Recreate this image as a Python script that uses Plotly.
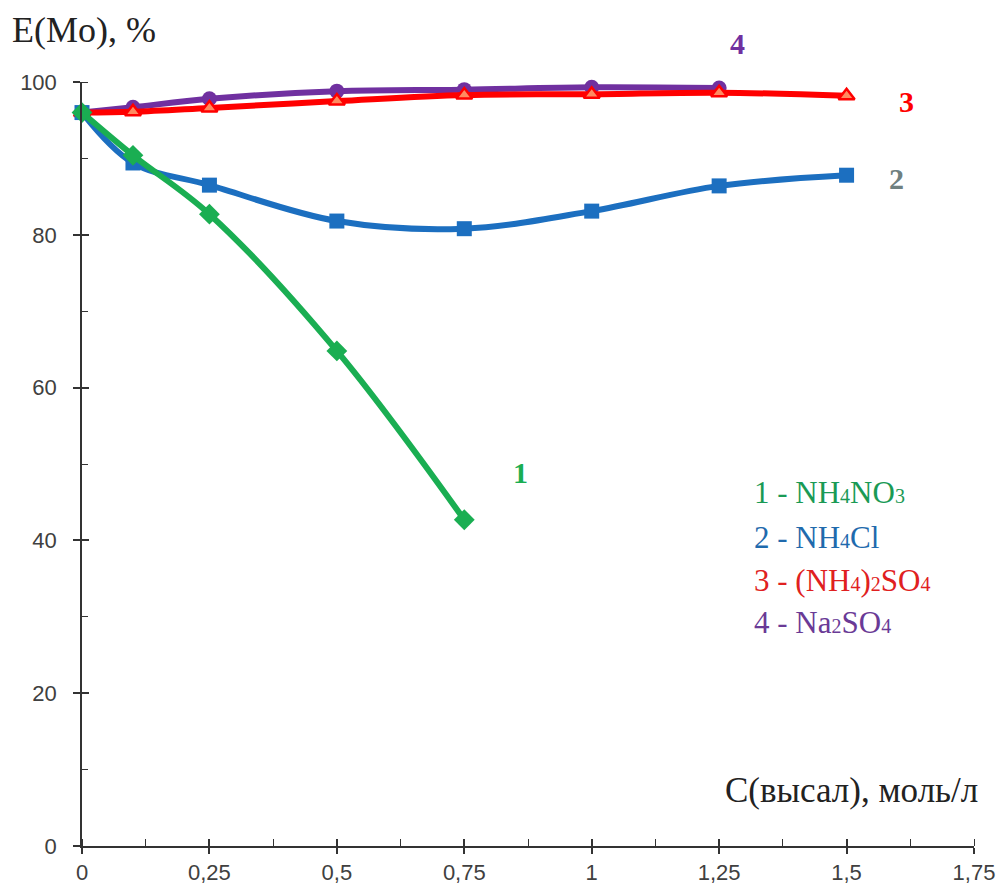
import plotly.graph_objects as go

x1 = [0, 0.1, 0.25, 0.5, 0.75]
y1 = [96.0, 90.4, 82.7, 64.8, 42.7]
x2 = [0, 0.1, 0.25, 0.5, 0.75, 1.0, 1.25, 1.5]
y2 = [96.0, 89.4, 86.5, 81.8, 80.8, 83.1, 86.4, 87.8]
x3 = [0, 0.1, 0.25, 0.5, 0.75, 1.0, 1.25, 1.5]
y3 = [96.0, 96.1, 96.6, 97.5, 98.3, 98.4, 98.6, 98.2]
x4 = [0, 0.1, 0.25, 0.5, 0.75, 1.0, 1.25]
y4 = [96.0, 96.7, 97.8, 98.8, 99.0, 99.3, 99.2]

xtick_vals = [0, 0.25, 0.5, 0.75, 1, 1.25, 1.5, 1.75]
xtick_text = ["0", "0,25", "0,5", "0,75", "1", "1,25", "1,5", "1,75"]
ytick_vals = [0, 20, 40, 60, 80, 100]

GREEN = "#1aae52"
BLUE = "#1c6fc0"
RED = "#ff0000"
PURPLE = "#7030a0"

fig = go.Figure()
fig.add_trace(go.Scatter(x=x4, y=y4, mode="lines+markers",
                         line=dict(color=PURPLE, width=6, shape="spline"),
                         marker=dict(symbol="circle", size=15, color=PURPLE), cliponaxis=False))
fig.add_trace(go.Scatter(x=x3, y=y3, mode="lines+markers",
                         line=dict(color=RED, width=6, shape="spline"),
                         marker=dict(symbol="triangle-up", size=14, color="#ff8a60",
                                     line=dict(color=RED, width=2.5)), cliponaxis=False))
fig.add_trace(go.Scatter(x=x2, y=y2, mode="lines+markers",
                         line=dict(color=BLUE, width=6, shape="spline"),
                         marker=dict(symbol="square", size=15, color=BLUE), cliponaxis=False))
fig.add_trace(go.Scatter(x=x1, y=y1, mode="lines+markers",
                         line=dict(color=GREEN, width=6, shape="spline"),
                         marker=dict(symbol="diamond", size=16, color=GREEN), cliponaxis=False))

ytickfont = dict(family="Liberation Sans", size=22, color="#404040")
xtickfont = dict(family="Liberation Sans Narrow, Liberation Sans", size=22, color="#404040")

# the page body adds an 8px offset; compensate in margins/size
fig.update_layout(
    width=997, height=878,
    margin=dict(l=74, r=31, t=74, b=40),
    paper_bgcolor="white", plot_bgcolor="white",
    showlegend=False,
    xaxis=dict(range=[0, 1.75], tickvals=xtick_vals, ticktext=xtick_text, automargin=False,
               showgrid=False, zeroline=False, showline=True, linecolor="#333", linewidth=1.5,
               ticks="outside", ticklen=6, tickwidth=1.5, tickcolor="#333", tickfont=xtickfont,
               minor=dict(dtick=0.125, tick0=0, ticks="inside", ticklen=7, tickwidth=1.2, tickcolor="#333")),
    yaxis=dict(range=[0, 100], tickvals=ytick_vals, automargin=False,
               showgrid=False, zeroline=False, showline=True, linecolor="#333", linewidth=1.5,
               ticks="outside", ticklen=7, tickwidth=1.5, tickcolor="#333", tickfont=ytickfont,
               ticklabelstandoff=12,
               minor=dict(dtick=10, tick0=0, ticks="inside", ticklen=6, tickwidth=1.2, tickcolor="#333")),
    xaxis2=dict(overlaying="x", matches="x", range=[0, 1.75], tickvals=xtick_vals, showticklabels=False,
                ticks="inside", ticklen=7, tickwidth=1.5, tickcolor="#333", showgrid=False, automargin=False,
                zeroline=False, showline=False, anchor="y"),
    yaxis2=dict(overlaying="y", matches="y", range=[0, 100], tickvals=ytick_vals, showticklabels=False,
                ticks="inside", ticklen=7, tickwidth=1.5, tickcolor="#333", showgrid=False, automargin=False,
                zeroline=False, showline=False, anchor="x"),
)
fig.add_trace(go.Scatter(x=[None], y=[None], xaxis="x2", yaxis="y2", showlegend=False, hoverinfo="skip"))

serif = "Liberation Serif"
def px(xp, yp):
    return ((xp - 82) / (974 - 82), (846 - yp) / (846 - 82))

S = "<span style='font-size:20px'>%s</span>"
notes = [
    (10, 30, "E(Mo), %", "#222", 36, "left"),
    (980, 790, "C(высал), моль/л", "#222", 35, "right"),
    (520, 473, "<b>1</b>", GREEN, 30, "center"),
    (896, 178, "<b>2</b>", "#6f8080", 30, "center"),
    (906, 101, "<b>3</b>", RED, 30, "center"),
    (737, 43, "<b>4</b>", PURPLE, 30, "center"),
    (752, 492, "1 - NH" + S % "4" + "NO" + S % "3", "#1a9a55", 31, "left"),
    (752, 537, "2 - NH" + S % "4" + "Cl", "#1f6aad", 31, "left"),
    (752, 580, "3 - (NH" + S % "4" + ")" + S % "2" + "SO" + S % "4", "#e02020", 31, "left"),
    (752, 622, "4 - Na" + S % "2" + "SO" + S % "4", "#6a3a96", 31, "left"),
]
annotations = []
for xp, yp, txt, col, sz, align in notes:
    xx, yy = px(xp, yp)
    annotations.append(dict(x=xx, y=yy, xref="paper", yref="paper", text=txt, showarrow=False,
                            xanchor=align, yanchor="middle",
                            font=dict(family=serif, size=sz, color=col)))
fig.update_layout(annotations=annotations)

fig.write_html("out.html")
